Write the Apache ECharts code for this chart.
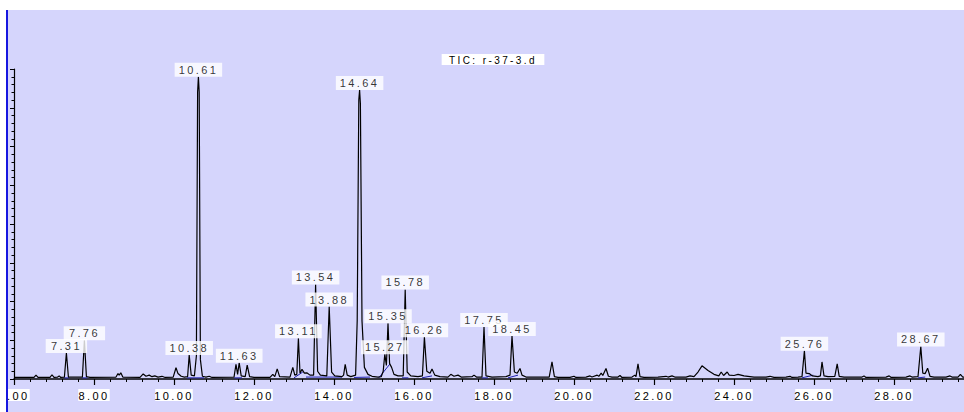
<!DOCTYPE html>
<html>
<head>
<meta charset="utf-8">
<script src="https://cdn.jsdelivr.net/npm/echarts@6/dist/echarts.min.js"></script>
<style>
  html, body { margin: 0; padding: 0; background: #ffffff; }
  #wrap { position: relative; width: 964px; height: 412px; overflow: hidden; }
  #chart { position: absolute; left: 7px; top: 10px; width: 957px; height: 402px; background: #d5d5fc; }
  #edge { position: absolute; left: 6px; top: 10px; width: 2px; height: 402px; background: #1616e0; }
  #chart svg text { letter-spacing: 2.4px; }
</style>
</head>
<body>
<div id="wrap">
  <div id="chart"></div>
  <div id="edge"></div>
</div>
<script>
// Total ion chromatogram, run r-37-3.d (retention time in minutes, relative abundance)

// Retention times of the integrated peaks and their apex heights
const peakRT   = [7.31, 7.76, 10.38, 10.61, 11.63, 13.11, 13.54, 13.88, 14.64, 15.27, 15.35, 15.78, 16.26, 17.75, 18.45, 25.76, 28.67];
const peakApex = [0.67, 1.00, 0.62, 7.80, 0.42, 1.05, 2.44, 1.87, 7.46, 0.64, 1.44, 2.31, 1.08, 1.34, 1.11, 0.73, 0.84];

// Remaining trace points (baseline, shoulders, minor peaks)
const traceRest = [
  [6.00,0.04],[6.50,0.04],[6.55,0.10],[6.60,0.04],[6.90,0.04],[6.95,0.11],[7.00,0.04],[7.09,0.05],[7.13,0.08],[7.17,0.04],
  [7.26,0.05],[7.36,0.05],
  [7.71,0.05],[7.81,0.06],[7.90,0.04],
  [8.55,0.05],[8.60,0.14],[8.63,0.10],[8.67,0.16],[8.72,0.05],
  [9.15,0.04],[9.23,0.13],[9.30,0.07],[9.38,0.10],[9.45,0.06],[9.52,0.08],[9.60,0.05],[9.70,0.07],[9.78,0.04],
  [9.98,0.05],[10.05,0.29],[10.10,0.14],[10.18,0.07],[10.26,0.05],
  [10.34,0.06],[10.43,0.10],[10.51,0.08],[10.56,0.60],[10.59,7.40],[10.63,7.40],[10.66,0.50],[10.71,0.07],[10.80,0.05],[10.88,0.07],[10.95,0.04],
  [11.50,0.05],[11.55,0.38],[11.59,0.12],[11.68,0.08],[11.78,0.06],[11.83,0.36],[11.89,0.06],[12.00,0.04],
  [12.40,0.04],[12.47,0.12],[12.52,0.06],[12.58,0.26],[12.64,0.06],[12.90,0.05],[12.97,0.30],[13.02,0.10],[13.07,0.12],
  [13.15,0.15],[13.20,0.25],[13.26,0.15],[13.32,0.16],[13.40,0.10],
  [13.49,0.10],[13.59,0.20],[13.66,0.10],[13.82,0.08],[13.94,0.18],[14.02,0.08],[14.20,0.06],
  [14.24,0.10],[14.28,0.38],[14.33,0.10],[14.42,0.06],
  [14.54,0.10],[14.58,1.50],[14.62,7.20],[14.66,7.10],[14.70,1.50],[14.76,0.30],[14.85,0.12],[14.95,0.07],
  [15.10,0.05],[15.18,0.06],[15.23,0.20],[15.31,0.35],[15.39,0.40],[15.44,0.30],[15.50,0.12],[15.60,0.08],
  [15.73,0.08],[15.83,0.18],[15.92,0.08],[16.10,0.06],[16.21,0.08],[16.32,0.20],[16.40,0.15],[16.45,0.26],[16.52,0.10],[16.65,0.06],
  [16.85,0.05],[16.92,0.12],[17.00,0.07],[17.10,0.10],[17.18,0.05],[17.45,0.06],[17.50,0.10],[17.56,0.05],
  [17.70,0.05],[17.80,0.08],[17.95,0.05],[18.30,0.06],[18.40,0.10],[18.51,0.18],[18.58,0.15],[18.65,0.27],[18.70,0.10],[18.80,0.05],
  [19.38,0.05],[19.45,0.44],[19.51,0.06],[19.60,0.04],
  [19.90,0.04],[20.00,0.07],[20.05,0.04],[20.30,0.05],[20.40,0.08],[20.45,0.05],[20.58,0.10],[20.62,0.07],[20.68,0.15],[20.72,0.09],
  [20.80,0.27],[20.86,0.07],[20.95,0.05],
  [21.10,0.05],[21.15,0.09],[21.20,0.04],[21.45,0.05],[21.52,0.10],[21.55,0.06],[21.60,0.39],[21.65,0.06],[21.75,0.04],
  [22.10,0.05],[22.30,0.07],[22.35,0.05],[22.45,0.08],[22.52,0.05],
  [22.80,0.05],[22.90,0.08],[23.00,0.06],[23.10,0.18],[23.20,0.34],[23.35,0.22],[23.50,0.12],[23.62,0.08],[23.68,0.18],[23.74,0.09],
  [23.83,0.18],[23.88,0.10],[24.00,0.09],[24.10,0.12],[24.25,0.08],[24.50,0.05],
  [24.80,0.05],[24.90,0.07],[25.00,0.04],[25.30,0.05],[25.40,0.07],[25.45,0.04],[25.60,0.05],
  [25.70,0.06],[25.80,0.15],[25.88,0.14],[25.96,0.08],[26.10,0.06],[26.16,0.08],[26.20,0.44],[26.25,0.08],[26.35,0.06],
  [26.52,0.07],[26.58,0.39],[26.63,0.07],[26.75,0.05],
  [27.20,0.05],[27.25,0.08],[27.30,0.04],[27.80,0.05],[27.88,0.08],[27.93,0.04],[28.30,0.05],[28.40,0.08],[28.45,0.05],
  [28.60,0.06],[28.72,0.15],[28.78,0.14],[28.84,0.28],[28.90,0.07],[29.00,0.05],[29.30,0.05],[29.40,0.08],[29.45,0.05],
  [29.60,0.05],[29.66,0.12],[29.72,0.05],[30.00,0.05]
];

// Integration baselines drawn under the peaks (segments separated by null)
const integration = [
  [7.25,0.03],[7.38,0.03],null,
  [7.70,0.03],[7.84,0.03],null,
  [10.32,0.03],[10.75,0.03],null,
  [11.50,0.03],[11.70,0.03],null,
  [13.00,0.03],[13.22,0.18],null,
  [13.30,0.05],[14.20,0.05],null,
  [14.50,0.04],[14.90,0.05],null,
  [15.12,0.03],[15.40,0.39],null,
  [15.70,0.03],[15.86,0.03],null,
  [16.20,0.03],[16.45,0.08],null,
  [17.70,0.03],[17.85,0.03],null,
  [18.35,0.03],[18.60,0.10],null,
  [25.70,0.03],[25.98,0.10],null,
  [28.60,0.03],[28.78,0.05]
];

const xTickLabels = { min: 6, max: 30, step: 2 };
const runTitle = 'TIC: r-37-3.d';

const trace = traceRest
  .concat(peakRT.map((t, i) => [t, peakApex[i]]))
  .sort((a, b) => a[0] - b[0]);

const integrationData = integration.map(p => (p === null ? [null, null] : p));

const chart = echarts.init(document.getElementById('chart'), null, { renderer: 'svg' });

const font = 'Liberation Sans, Arial, sans-serif';

chart.setOption({
  animation: false,
  backgroundColor: 'transparent',
  grid: { left: 7, right: -10, top: 59, bottom: 33, outerBoundsMode: 'none', containLabel: false },
  graphic: [{
    type: 'text',
    x: 486,
    y: 44,
    z: 20,
    style: {
      text: runTitle,
      align: 'center',
      verticalAlign: 'top',
      fontFamily: font,
      fontSize: 10,
      fill: '#000',
      backgroundColor: '#ffffff',
      padding: [1, 23, 0, 23],
      lineHeight: 10
    }
  }],
  xAxis: {
    type: 'value',
    min: xTickLabels.min,
    max: xTickLabels.max,
    interval: xTickLabels.step,
    axisLine: { lineStyle: { color: '#000', width: 1.5 } },
    axisTick: { length: 6, lineStyle: { color: '#000', width: 1.2 } },
    minorTick: { show: true, splitNumber: 5, length: 3, lineStyle: { color: '#000', width: 1 } },
    splitLine: { show: false },
    axisLabel: {
      margin: 10,
      showMaxLabel: false,
      formatter: v => v.toFixed(2),
      fontFamily: font,
      fontSize: 11,
      lineHeight: 11,
      color: '#000',
      backgroundColor: '#ffffff',
      padding: [1, 5, 0, 5]
    }
  },
  yAxis: {
    type: 'value',
    min: 0,
    max: 8,
    interval: 1,
    axisLine: { show: true, lineStyle: { color: '#000', width: 1.2 } },
    axisTick: { show: true, length: 4, lineStyle: { color: '#000', width: 1 } },
    minorTick: { show: true, splitNumber: 5, length: 2.5, lineStyle: { color: '#000', width: 1 } },
    splitLine: { show: false },
    axisLabel: { show: false }
  },
  series: [
    {
      name: 'baseline',
      type: 'line',
      data: integrationData,
      connectNulls: false,
      symbol: 'none',
      z: 2,
      lineStyle: { color: '#2222b0', width: 1 }
    },
    {
      name: 'TIC',
      type: 'line',
      data: trace,
      symbol: 'none',
      z: 3,
      lineStyle: { color: '#000000', width: 1.2 }
    },
    {
      name: 'peaks',
      type: 'scatter',
      data: peakRT.map((t, i) => [t, peakApex[i]]),
      symbolSize: 0,
      z: 10,
      label: {
        show: true,
        position: 'top',
        distance: 0,
        formatter: p => p.value[0].toFixed(2),
        fontFamily: font,
        fontSize: 11,
        lineHeight: 12,
        color: '#000',
        backgroundColor: '#ffffff',
        padding: [1, 10, 1, 10]
      },
      labelLayout: { hideOverlap: false }
    }
  ]
});
</script>
</body>
</html>
